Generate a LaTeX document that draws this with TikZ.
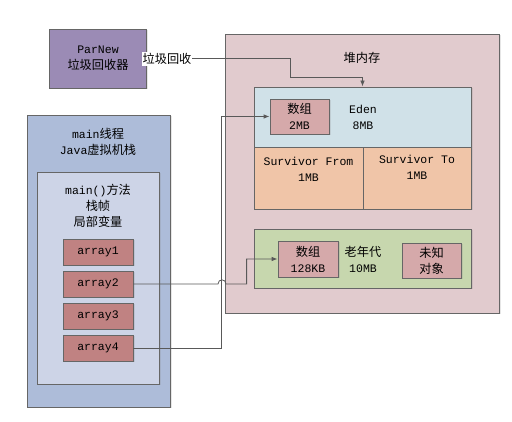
\documentclass[tikz,border=0pt]{standalone}
\usepackage{fontspec}
\setmainfont{Liberation Mono}
\newfontfamily\cjk[Scale=1.06]{Noto Sans CJK SC}
\usetikzlibrary{arrows.meta,shadows}
% colours of the JVM memory sketch
\definecolor{jvmGc}{RGB}{155,139,181}
\definecolor{jvmHeap}{RGB}{225,203,206}
\definecolor{jvmEden}{RGB}{208,225,232}
\definecolor{jvmSurv}{RGB}{240,197,168}
\definecolor{jvmOld}{RGB}{199,215,174}
\definecolor{jvmObj}{RGB}{213,169,170}
\definecolor{jvmStack}{RGB}{173,188,217}
\definecolor{jvmFrame}{RGB}{205,212,231}
\definecolor{jvmVar}{RGB}{192,130,130}

\begin{document}
\begin{tikzpicture}[x=1pt, y=-1pt, font=\fontsize{11.5}{16}\selectfont]
\providecommand{\jvmLineColor}{black!60}
\providecommand{\jvmLinkColor}{black!65}
\tikzset{
  box/.style={draw=\jvmLineColor, line width=0.8pt, inner sep=0pt, align=center,
    drop shadow={shadow xshift=1.5pt, shadow yshift=-1.5pt, opacity=0.2}},
  txt/.style={align=center, inner sep=0pt},
  link/.style={draw=\jvmLinkColor, line width=0.8pt, -{Latex[length=6pt,width=4.5pt]}}
}
\useasboundingbox (0,0) rectangle (512,422);
% Heap
\node[box, fill=jvmHeap, minimum width=274pt, minimum height=279pt] (heap) at (362,173.5) {};
\node[txt] (heaptitle) at (362,58) {\cjk 堆内存};
\node[box, fill=jvmEden, minimum width=217pt, minimum height=60pt] (eden) at (362.5,117) {};
\node[txt] (edentext) at (363,117.5) {Eden\\8MB};
\node[box, fill=jvmSurv, minimum width=109pt, minimum height=62pt] (survfrom) at (308.5,178) {};
\node[box, fill=jvmSurv, minimum width=108pt, minimum height=62pt] (survto) at (417,178) {};
\node[txt] (survfromtext) at (308.5,169) {Survivor From\\1MB};
\node[txt] (survtotext) at (417,167) {Survivor To\\1MB};
\node[box, fill=jvmObj, minimum width=59pt, minimum height=35pt] (arr2mb) at (299.5,116.5) {{\cjk 数组}\\2MB};
\node[box, fill=jvmOld, minimum width=217pt, minimum height=59pt] (old) at (362.5,258.5) {};
\node[txt] (oldtext) at (363,259.5) {{\cjk 老年代}\\10MB};
\node[box, fill=jvmObj, minimum width=60pt, minimum height=36pt] (arr128) at (308,259) {{\cjk 数组}\\128KB};
\node[box, fill=jvmObj, minimum width=59pt, minimum height=35pt] (unknown) at (431.5,260.5) {{\cjk 未知}\\{\cjk 对象}};
% GC
\node[box, fill=jvmGc, minimum width=97pt, minimum height=59pt] (parnew) at (98,58.5) {ParNew\\{\cjk 垃圾回收器}};
% Stack
\node[box, fill=jvmStack, minimum width=143pt, minimum height=292pt] (stack) at (98.5,261) {};
\node[txt] (stacktitle) at (98,142) {main{\cjk 线程}\\Java{\cjk 虚拟机栈}};
\node[box, fill=jvmFrame, minimum width=122pt, minimum height=212pt] (frame) at (98,278) {};
\node[txt] (frametext) at (98,206) {main(){\cjk 方法}\\{\cjk 栈帧}\\{\cjk 局部变量}};
\foreach \i/\y in {1/252,2/284,3/316,4/348}
  \node[box, fill=jvmVar, minimum width=70pt, minimum height=26pt] (array\i) at (98,\y) {array\i};
% Links
\coordinate (jumpa) at (218,284);
\coordinate (jumpb) at (226,284);
\draw[link] (parnew.east) -- ++(143,0) |- ([yshift=9pt]eden.north) -- (eden.north);
\draw[link] (array4.east) -| ([xshift=-48pt]arr2mb.west) -- (arr2mb.west);
\draw[link] (array2.east) -- (jumpa) .. controls +(0,-5.5) and +(0,-5.5) .. (jumpb)
  -| ([xshift=-31pt]arr128.west) -- (arr128.west);
\node[fill=white, inner sep=1pt] (gclabel) at (167,59) {\cjk 垃圾回收};
\end{tikzpicture}
\end{document}
